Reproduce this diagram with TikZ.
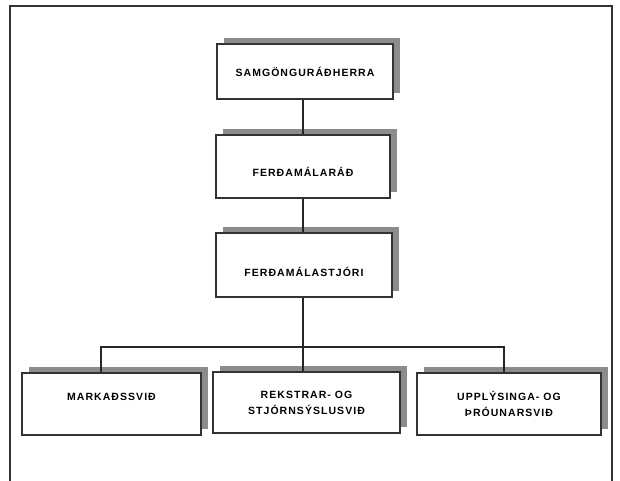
\documentclass[tikz,border=0pt]{standalone}
\usepackage{fontspec}
\newfontfamily\boxfont[LetterSpace=10]{Liberation Sans}
\usetikzlibrary{shadows}
\begin{document}
\begin{tikzpicture}[x=1pt,y=-1pt,
  orgbox/.style={draw=black!80, line width=1.4pt, fill=white, inner sep=0pt,
    align=center, font=\boxfont\bfseries\fontsize{10.5}{16}\selectfont,
    drop shadow={shadow xshift=7pt, shadow yshift=6pt, fill=black!45, opacity=1}},
  link/.style={draw=black!85, line width=1.4pt},
  frame/.style={draw=black!80, line width=1.2pt}]
\useasboundingbox (0,0) rectangle (620,481);
\draw[frame] (10,481) -- (10,6) -- (612,6) -- (612,481);
\node[orgbox, minimum width=176pt, minimum height=55pt, text height=32.8pt, text depth=22.2pt] (b1) at (305,71.5) {SAMGÖNGURÁÐHERRA};
\node[orgbox, minimum width=174pt, minimum height=63pt, text height=41.8pt, text depth=21.2pt] (b2) at (303,166.5) {FERÐAMÁLARÁÐ};
\node[orgbox, minimum width=176pt, minimum height=64pt, text height=43.8pt, text depth=20.2pt] (b3) at (304,265) {FERÐAMÁLASTJÓRI};
\node[orgbox, minimum width=179pt, minimum height=62pt, text height=27.8pt, text depth=34.2pt] (c1) at (111.5,404) {MARKAÐSSVIÐ};
\node[orgbox, minimum width=187pt, minimum height=61pt] (c2) at (306.5,402.5) {REKSTRAR- OG\\STJÓRNSÝSLUSVIÐ};
\node[orgbox, minimum width=184pt, minimum height=62pt] (c3) at (509,404) {UPPLÝSINGA- OG\\ÞRÓUNARSVIÐ};
\coordinate (busL) at (101,347);
\coordinate (busM) at (303,347);
\coordinate (busR) at (504,347);
\draw[link] (busM |- b1.south) -- (busM |- b2.north);
\draw[link] (busM |- b2.south) -- (busM |- b3.north);
\draw[link] (busM |- b3.south) -- (busM);
\draw[link] (busL |- c1.north) -- (busL) -- (busR) -- (busR |- c3.north);
\draw[link] (busM) -- (busM |- c2.north);
\end{tikzpicture}
\end{document}
